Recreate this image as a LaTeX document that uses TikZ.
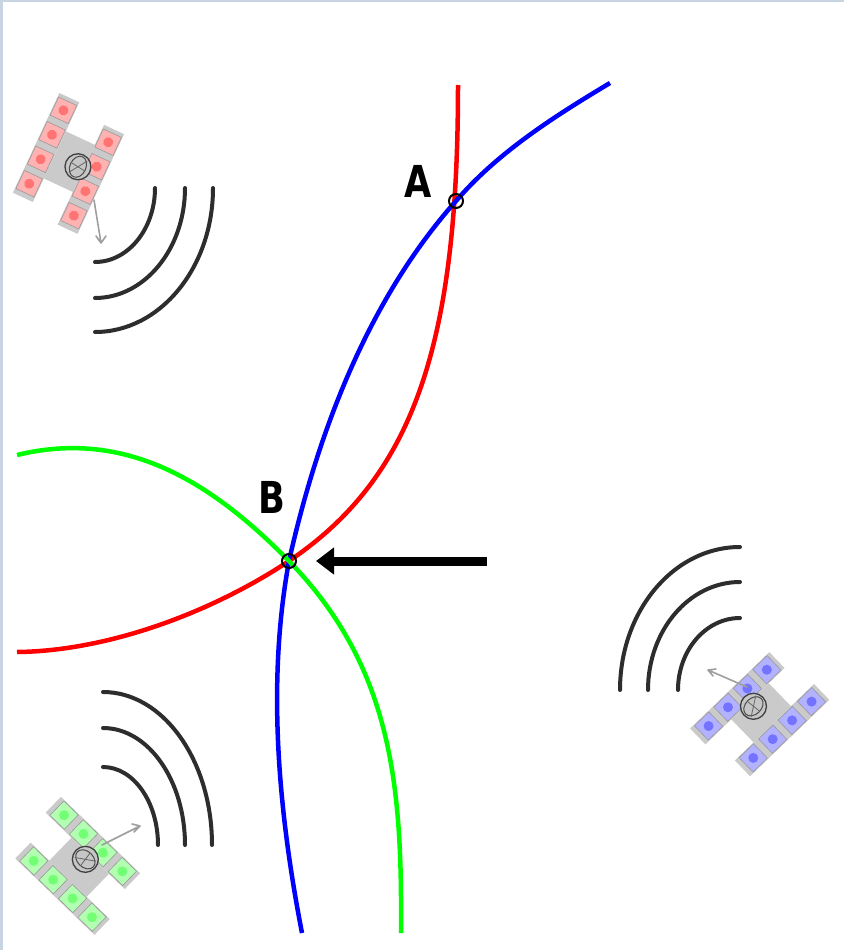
\documentclass[tikz,border=0pt]{standalone}
\usepackage{fontspec}
\usepackage{graphicx}
\setmainfont{Liberation Sans}
\newfontfamily\labelfont{DejaVu Sans}
\usetikzlibrary{arrows.meta}

\definecolor{framegray}{RGB}{200,212,225}
\definecolor{satgray}{RGB}{202,202,202}
\definecolor{wavegray}{RGB}{45,45,45}

\tikzset{
  orbit/.style={line width=4.5pt, line join=round},
  wave/.style={wavegray, line width=4pt, line cap=round},
  fixmark/.style={circle, draw=black, line width=2pt, minimum size=14pt, inner sep=0pt},
  ptlabel/.style={font=\labelfont\bfseries\fontsize{44}{44}\selectfont, inner sep=0pt},
  antenna/.style={draw=gray!75, line width=1.6pt, line cap=round},
  pics/satellite/.style={code={
    % two solar arms joined by the bus
    \fill[satgray] (-38,-56) rectangle (-16,54);
    \fill[satgray] (16,-66) rectangle (38,44);
    \fill[satgray] (-16,-30) rectangle (16,22);
    \foreach \py in {40,13,-14,-41}{
      \filldraw[fill=#1!30, draw=black!40, line width=0.6pt] (-37,\py-10) rectangle (-17,\py+10);
      \fill[#1!55] (-27,\py) circle (5);
    }
    \foreach \py in {30,3,-24,-51}{
      \filldraw[fill=#1!30, draw=black!40, line width=0.6pt] (17,\py-10) rectangle (37,\py+10);
      \fill[#1!55] (27,\py) circle (5);
    }
    % dish
    \filldraw[fill=gray!45, draw=black!75, line width=1.3pt] (10,-5) circle (13);
    \draw[black!70, line width=1pt] (10,-5) ellipse (8 and 11);
    \draw[black!60, line width=0.8pt] (4,-14) -- (16,4) (2,-4) -- (18,-6);
  }}
}

\begin{document}
\begin{tikzpicture}[x=1pt,y=1pt]
\useasboundingbox (0,0) rectangle (844,-950);
\fill[white] (0,0) rectangle (844,-950);
\fill[framegray] (0,0) rectangle (3,-950);
\fill[framegray] (0,0) rectangle (844,-2);

% satellites
\pic[rotate=-25] (satR) at (71,-158) {satellite=red};
\pic[rotate=46, yscale=-1] (satG) at (82,-870) {satellite=green};
\pic[rotate=134, yscale=-1] (satB) at (764,-710) {satellite=blue};

% antenna booms
\draw[antenna] (94,-200) -- (101,-243) (101,-243) -- (96,-236) (101,-243) -- (106,-236);
\draw[antenna] (102,-845) -- (140,-826) (140,-826) -- (132,-824) (140,-826) -- (134,-832);
\draw[antenna] (747,-687) -- (708,-670) (708,-670) -- (716,-669) (708,-670) -- (713,-676);

% signal waves
\draw[wave] (155,-188) arc[start angle=0, end angle=-90, x radius=60, y radius=74];
\draw[wave] (185,-188) arc[start angle=0, end angle=-90, x radius=90, y radius=110];
\draw[wave] (213,-188) arc[start angle=0, end angle=-90, x radius=118, y radius=144];

\draw[wave] (103,-767) arc[start angle=90, end angle=0, x radius=55, y radius=78];
\draw[wave] (103,-728) arc[start angle=90, end angle=0, x radius=82, y radius=117];
\draw[wave] (103,-692) arc[start angle=90, end angle=0, x radius=109, y radius=153];

\draw[wave] (740,-618) arc[start angle=90, end angle=180, x radius=62, y radius=72];
\draw[wave] (740,-582) arc[start angle=90, end angle=180, x radius=92, y radius=108];
\draw[wave] (740,-547) arc[start angle=90, end angle=180, x radius=120, y radius=143];

% fix points
\coordinate (fixA) at (456,-201);
\coordinate (fixB) at (289,-561);

% range circles
\draw[orbit, red] (458,-85) .. controls (458,-345) and (413.5,-477) .. (fixB)
  .. controls (214,-611) and (110,-651) .. (17,-652);
\draw[orbit, blue] (610,-83) .. controls (555,-116) and (498,-152) .. (fixA)
  .. controls (368,-300) and (318,-432) .. (fixB)
  .. controls (266.7,-682.5) and (278.4,-811.5) .. (302,-933);
\draw[orbit, green] (17,-455) .. controls (120,-430) and (205,-475) .. (fixB)
  .. controls (394,-669) and (402,-790) .. (401,-933);

% intersection marks and labels
\node[fixmark] (ptA) at (fixA) {};
\node[fixmark] (ptB) at (fixB) {};
\node[ptlabel] (labA) at (418,-181) {\scalebox{0.8}[1]{A}};
\node[ptlabel] (labB) at (272,-497) {\scalebox{0.8}[1]{B}};

% pointer to the fix
\coordinate (arrowtail) at (487,-561);
\draw[-{Triangle[length=18pt,width=26pt]}, line width=9pt, shorten >=19pt] (arrowtail) -- (ptB.east);
\end{tikzpicture}
\end{document}
